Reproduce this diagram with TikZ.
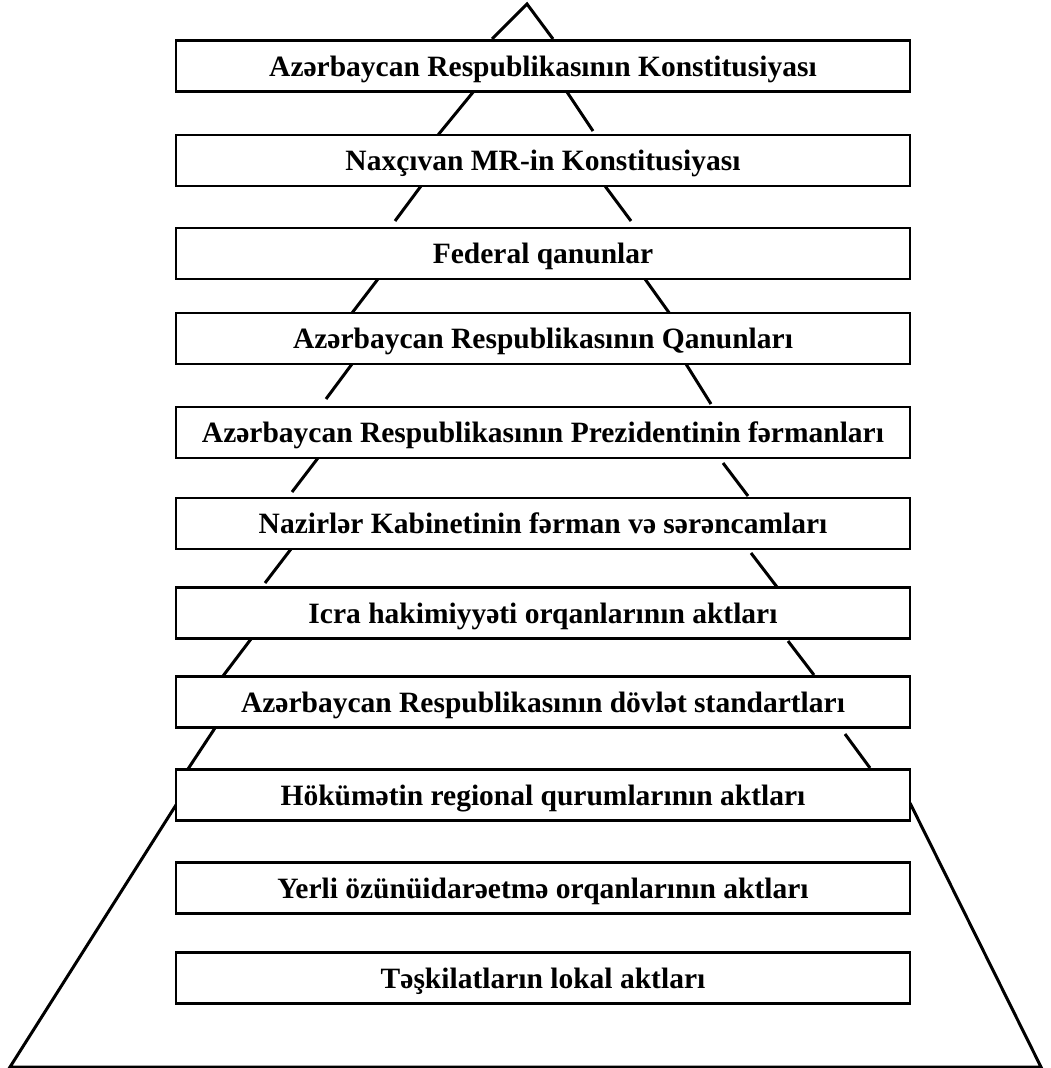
\documentclass[tikz,border=0pt]{standalone}
\usepackage{fontspec}
\setmainfont{Liberation Serif}

\tikzset{
    tier/.style={rectangle,draw,line width=2.3pt,fill=white,minimum width=734pt,minimum height=51pt,inner sep=0pt,text depth=0pt,font=\fontsize{29.5}{34}\selectfont\bfseries},
    side/.style={line width=3pt}
}

\begin{document}
\begin{tikzpicture}[x=1pt,y=-1pt]
        \useasboundingbox (0,0) rectangle (1050,1068);

        % sides of the pyramid, broken between the boxes
        \draw[side] (492,39) -- (527,4) -- (553,39);
        \foreach \xa/\ya/\xb/\yb in {474/91/438/135, 421/186/395/221, 378/279/352/313, 352/364/326/399,
                318/458/292/492, 291/549/265/583, 251/639/223/676, 215/728/188/769,
                567/92/593/131, 605/186/631/221, 645/279/670/314, 686/364/711/404,
                723/463/748/496, 751/553/777/587, 788/641/814/675, 845/734/870/768}
            \draw[side] (\xa,\ya) -- (\xb,\yb);
        \draw[side] (176,805) -- (10,1067) -- (1041,1067) -- (910,803);

        \node at (543,66) [tier] (azkonst) {Azərbaycan Respublikasının Konstitusiyası};
        \node at (543,160.5) [tier] (naxkonst) {Naxçıvan MR-in Konstitusiyası};
        \node at (543,253.5) [tier] (federal) {Federal qanunlar};
        \node at (543,338.5) [tier] (azqanun) {Azərbaycan Respublikasının Qanunları};
        \node at (543,432.5) [tier] (prezident) {Azərbaycan Respublikasının Prezidentinin fərmanları};
        \node at (543,523.5) [tier] (kabinet) {Nazirlər Kabinetinin fərman və sərəncamları};
        \node at (543,613) [tier] (icra) {Icra hakimiyyəti orqanlarının aktları};
        \node at (543,702) [tier] (standart) {Azərbaycan Respublikasının dövlət standartları};
        \node at (543,795) [tier] (regional) {Hökümətin regional qurumlarının aktları};
        \node at (543,888) [tier] (yerli) {Yerli özünüidarəetmə orqanlarının aktları};
        \node at (543,978) [tier] (lokal) {Təşkilatların lokal aktları};
    \end{tikzpicture}
\end{document}
